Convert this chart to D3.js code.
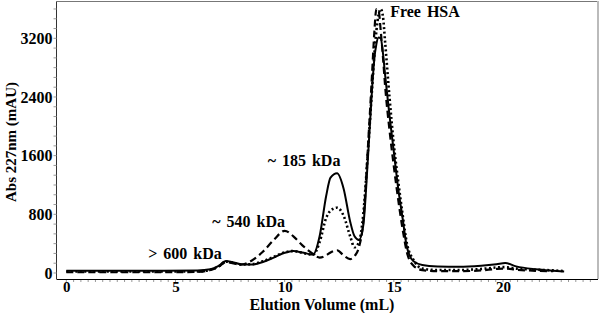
<!DOCTYPE html>
<html>
<head>
<meta charset="utf-8">
<script src="https://cdn.jsdelivr.net/npm/d3@7"></script>
<style>
  body { margin: 0; background: #fff; }
  text { font-family: "Liberation Serif", "Times New Roman", serif; font-weight: bold; fill: #000; }
</style>
</head>
<body>
<svg id="chart" width="600" height="313"></svg>
<script>
// elution volume grid (mL) shared by the three traces
var volume = [0, 2, 4, 6, 6.6, 7.0, 7.3, 7.6, 8.0, 8.5, 9.0, 9.5, 10.0, 10.4, 10.8, 11.3, 11.6, 11.9, 12.1, 12.4, 12.7, 13.0, 13.2, 13.4, 13.6, 13.8, 14.0, 14.1, 14.2, 14.3, 14.4, 14.5, 14.6, 14.8, 15.0, 15.2, 15.4, 15.6, 15.9, 16.3, 17, 18, 19, 19.7, 20.1, 20.6, 21.5, 22.3, 22.8];

// absorbance at 227 nm (mAU)
var solidAbs = [30, 30, 30, 35, 50, 100, 165, 150, 120, 115, 150, 210, 275, 300, 280, 250, 500, 1050, 1300, 1360, 1150, 700, 500, 450, 650, 1500, 2500, 2900, 3120, 3210, 3200, 3000, 2700, 2150, 1650, 1150, 750, 350, 160, 110, 90, 85, 100, 120, 135, 90, 50, 30, 20];
var dashedAbs = [10, 10, 10, 15, 40, 90, 150, 135, 115, 170, 290, 450, 575, 500, 380, 260, 210, 240, 280, 310, 240, 190, 230, 350, 700, 1650, 2700, 3250, 3600, 3580, 3300, 2950, 2550, 1950, 1450, 1000, 600, 280, 100, 40, 25, 25, 35, 55, 60, 45, 30, 25, null];
var dottedAbs = [20, 20, 20, 20, 45, 95, 155, 140, 115, 120, 160, 220, 280, 300, 275, 250, 420, 750, 850, 890, 780, 500, 350, 420, 800, 1600, 2500, 2950, 3300, 3520, 3600, 3500, 3150, 2400, 1750, 1250, 800, 400, 180, 60, 40, 40, 55, 75, 80, 60, 45, 35, 25];

var xTicks = [0, 5, 10, 15, 20];
var yTicks = [0, 800, 1600, 2400, 3200];

var peakLabels = [
  { text: "Free HSA", v: 14.83, a: 3490 },
  { text: "~ 185 kDa", v: 9.22, a: 1460 },
  { text: "~ 540 kDa", v: 6.68, a: 628 },
  { text: "> 600 kDa", v: 3.75, a: 191 }
];

var svg = d3.select("#chart");

var x = d3.scaleLinear().domain([-0.45, 24.35]).range([56.5, 598]);
var y = d3.scaleLinear().domain([-82, 3702]).range([279, 1.5]);

// frame
svg.append("line").attr("x1", 56.5).attr("x2", 598).attr("y1", 1.5).attr("y2", 1.5)
  .attr("stroke", "#777").attr("stroke-width", 1);
svg.append("line").attr("x1", 598).attr("x2", 598).attr("y1", 1).attr("y2", 279)
  .attr("stroke", "#bbb").attr("stroke-width", 2);

var xAxis = d3.axisBottom(x).tickValues(xTicks).tickFormat(d3.format("d")).tickSize(0).tickPadding(2);
var gx = svg.append("g").attr("transform", "translate(0,279)").call(xAxis);
gx.select(".domain").attr("stroke", "#000").attr("d", "M56.5,0.5H598");
gx.selectAll("text").attr("font-size", 15);

var xMinor = d3.range(0, 24.01, 1 / 3);
gx.selectAll(".minor").data(xMinor).enter().append("line")
  .attr("class", "minor")
  .attr("x1", function(d) { return x(d); })
  .attr("x2", function(d) { return x(d); })
  .attr("y1", 1).attr("y2", 3).attr("stroke", "#999");

var yAxis = d3.axisLeft(y).tickValues(yTicks).tickFormat(d3.format("d")).tickSize(0).tickPadding(4);
var gy = svg.append("g").attr("transform", "translate(56.5,0)").call(yAxis);
gy.select(".domain").attr("stroke", "#333").attr("d", "M0,1.5V279");
gy.selectAll("text").attr("font-size", 16);

var yMinor = d3.range(0, 3700, 800 / 6);
gy.selectAll(".minor").data(yMinor).enter().append("line")
  .attr("class", "minor")
  .attr("y1", function(d) { return y(d); })
  .attr("y2", function(d) { return y(d); })
  .attr("x1", -3).attr("x2", 0).attr("stroke", "#999");

svg.append("text").attr("x", 322).attr("y", 309.5).attr("text-anchor", "middle")
  .attr("font-size", 16).text("Elution Volume (mL)");
svg.append("text").attr("transform", "translate(16,142) rotate(-90)")
  .attr("text-anchor", "middle").attr("font-size", 15).text("Abs 227nm (mAU)");

var line = function(values) {
  return d3.line()
    .defined(function(d, i) { return values[i] !== null; })
    .x(function(d) { return x(d); })
    .y(function(d, i) { return y(values[i]); })
    .curve(d3.curveMonotoneX)(volume);
};

var traces = [
  { values: dashedAbs, dash: "7,4", width: 2.2 },
  { values: dottedAbs, dash: "2,2.5", width: 2.6 },
  { values: solidAbs, dash: null, width: 2 }
];

svg.selectAll(".trace").data(traces).enter().append("path")
  .attr("class", "trace")
  .attr("fill", "none")
  .attr("stroke", "#000")
  .attr("stroke-width", function(d) { return d.width; })
  .attr("stroke-dasharray", function(d) { return d.dash; })
  .attr("d", function(d) { return line(d.values); });

svg.selectAll(".peak").data(peakLabels).enter().append("text")
  .attr("class", "peak")
  .attr("x", function(d) { return x(d.v); })
  .attr("y", function(d) { return y(d.a); })
  .attr("font-size", 16)
  .attr("word-spacing", 2)
  .text(function(d) { return d.text; });
</script>
</body>
</html>
